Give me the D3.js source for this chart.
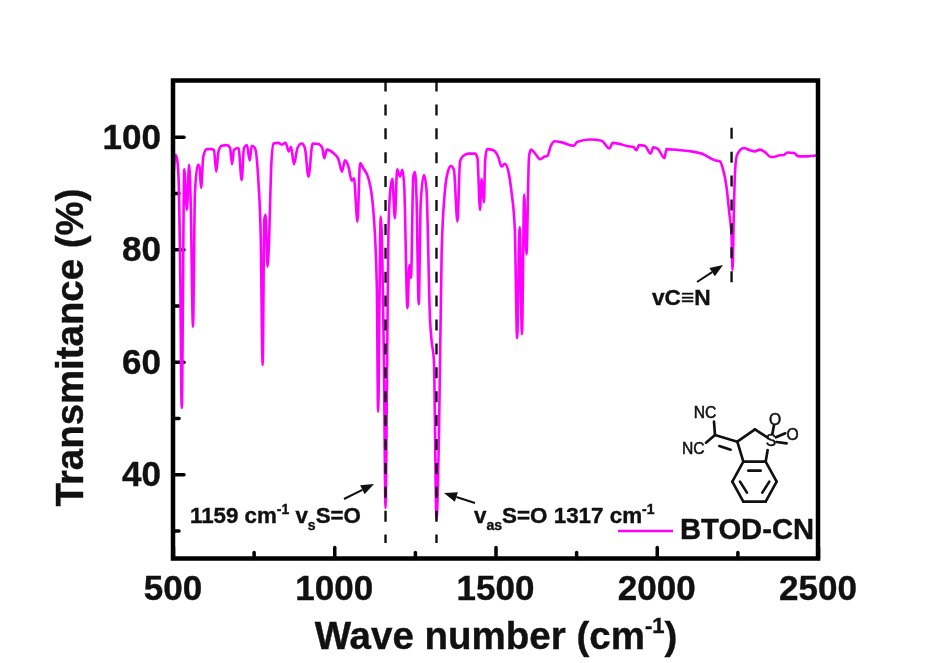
<!DOCTYPE html>
<html><head><meta charset="utf-8">
<script src="https://cdnjs.cloudflare.com/ajax/libs/d3/7.8.5/d3.min.js"></script>
<style>
html,body{margin:0;padding:0;background:#fff}
svg{display:block;filter:blur(0.55px)}
text{font-family:"Liberation Sans",Arial,sans-serif;font-weight:bold;fill:#111;stroke:#111;stroke-width:0.4px}
</style></head><body><svg id="c" width="937" height="663"></svg>
<script>
const waveNumbers=[503,507,512,517,522,527,535,543,550,555,562,568,577,582,587,594,605,620,627,634,641,651,667,677,683,689,703,713,720,729,738,744,754,765,772,778,783,787,793,798,804,811,827,837,849,859,866,875,886,899,909,920,933,951,963,969,977,997,1013,1024,1033,1044,1054,1061,1072,1080,1090,1106,1121,1132,1136,1144,1154,1159,1164,1168,1173,1180,1188,1195,1204,1211,1217,1227,1233,1238,1245,1250,1255,1262,1268,1278,1286,1297,1302,1309,1317,1325,1333,1343,1354,1362,1371,1382,1390,1400,1416,1436,1444,1452,1457,1464,1468,1474,1493,1508,1519,1529,1540,1550,1560,1567,1575,1582,1589,1596,1604,1610,1622,1638,1653,1661,1671,1684,1705,1743,1753,1793,1829,1853,1863,1886,1911,1927,1937,1945,1963,1981,1989,2004,2024,2030,2072,2108,2144,2180,2196,2206,2216,2225,2232,2235,2239,2243,2249,2270,2289,2304,2320,2335,2353,2369,2382,2392,2405,2425,2440,2464,2500];
const transmittance=[94,96.8,96.2,93,78,51.8,94.2,87,95,88,66.2,90,95,94.7,90.9,96.5,97.8,97.8,97.6,93.8,97.4,98.4,98.5,98,95.1,97.7,98,92.3,98,98.5,95.8,98.4,98,91.8,82.3,59.4,85.2,86.1,76.9,81.7,94,98.8,98.9,98.6,98.9,97.4,98.2,95.1,98,98.8,98,92.9,98.8,98.7,98,96.2,97.7,97.1,96,93.8,95.8,94.7,92.2,92.6,84.9,95.3,94.4,92.6,87,73.4,51.1,85.8,60,34,60,82.9,90,92.5,85.5,94.2,92.9,94.1,91.2,69.5,77.2,74.9,92.9,93.7,89.4,70.2,88.2,93.2,90.6,67.4,63.6,60.3,31.9,48,79.3,90.3,94.1,94.8,94.1,84.9,95.6,96.6,97,97,96.2,87,92.5,88.3,95.9,97.8,97.6,96.5,94.7,95.2,93.8,90,83.4,64.2,83.9,64.9,89.7,79.1,96.5,97.7,97.1,96,96.5,96.6,98.3,99.2,99,98.4,99.05,99.5,99.3,97.9,98.9,98.7,98.3,98.2,97.6,98.5,98.4,97,98.1,97.8,96.2,97.8,97.6,97.4,96.9,95.8,95.6,94.1,91.2,86.4,82.3,76.3,86.4,94.1,96.8,98,97.6,97.4,97.7,97.3,96.4,96.5,96.7,96.7,97.2,97.1,96.5,96.5,96.7];
const xMajor=[500,1000,1500,2000,2500], xMinor=[750,1250,1750,2250];
const yMajor=[40,60,80,100], yMinor=[30,50,70,90];
const markers=[{w:1159,top:110,bottom:27.75},{w:1317,top:110,bottom:27.75},{w:2232,top:101.6,bottom:74}];

const svg=d3.select("#c");
const x=d3.scaleLinear().domain([500,2500]).range([173,818]);
const y=d3.scaleLinear().domain([25,110]).range([558.5,80.5]);
const sw=4.5;

function axis(gen,tx,ty){
  const g=svg.append("g").attr("transform",`translate(${tx},${ty})`).call(gen);
  g.select(".domain").remove();
  g.selectAll("line").attr("stroke","#000").attr("stroke-width",3.5).attr("stroke-linecap","round");
  g.selectAll("text").attr("fill","#111");
  return g;
}
const base=y.range()[0], left=x.range()[0];
// tick marks
axis(d3.axisBottom(x).tickValues(xMajor).tickSize(-11).tickFormat(""),0,base);
axis(d3.axisBottom(x).tickValues(xMinor).tickSize(-6).tickFormat(""),0,base);
axis(d3.axisLeft(y).tickValues(yMajor).tickSize(-11).tickFormat(""),left,0);
axis(d3.axisLeft(y).tickValues(yMinor).tickSize(-6).tickFormat(""),left,0);
// tick labels
svg.selectAll(".xl").data(xMajor).join("text").attr("class","xl")
  .attr("x",d=>x(d)).attr("y",600).attr("text-anchor","middle").attr("font-size",35).text(d=>d);
svg.selectAll(".yl").data(yMajor).join("text").attr("class","yl")
  .attr("x",161).attr("y",d=>y(d)).attr("dy","0.35em").attr("text-anchor","end").attr("font-size",35).text(d=>d);

const line=d3.line().x((d,i)=>x(waveNumbers[i])).y(d=>y(d)).curve(d3.curveMonotoneX);
svg.append("path").datum(transmittance).attr("d",line).attr("fill","none")
  .attr("stroke","#ff00ff").attr("stroke-width",2.6).attr("stroke-linejoin","round");

svg.selectAll(".mk").data(markers).join("line").attr("class","mk")
  .attr("x1",d=>x(d.w)).attr("x2",d=>x(d.w)).attr("y1",d=>y(d.top)).attr("y2",d=>y(d.bottom))
  .attr("stroke","#111").attr("stroke-width",2.4).attr("stroke-dasharray","11 12.9");

svg.append("rect").attr("x",left).attr("y",y.range()[1])
  .attr("width",x.range()[1]-left).attr("height",base-y.range()[1])
  .attr("fill","none").attr("stroke","#000").attr("stroke-width",sw);

// axis titles
svg.append("text").attr("transform","translate(83,347.5) rotate(-90)").attr("text-anchor","middle")
  .attr("font-size",38.4).text("Transmitance (%)");
const xt=svg.append("text").attr("x",496).attr("y",649).attr("text-anchor","middle").attr("font-size",38.5);
xt.append("tspan").text("Wave number (cm");
xt.append("tspan").attr("dy",-16).attr("font-size",22).text("-1");
xt.append("tspan").attr("dy",16).text(")");

// annotations
function note(px,py,parts,size){
  const t=svg.append("text").attr("x",px).attr("y",py).attr("font-size",size);
  let prev=0;
  parts.forEach(p=>{
    const off=p.off||0;
    t.append("tspan").attr("dy",off-prev).attr("font-size",p.size||size).text(p.t);
    prev=off;
  });
}
note(190,523,[{t:"1159 cm"},{t:"-1",off:-9,size:14},{t:" v"},{t:"s",off:7,size:14},{t:"S=O"}],22.3);
note(474,523,[{t:"v"},{t:"as",off:7,size:14},{t:"S=O 1317 cm"},{t:"-1",off:-9,size:14}],22.4);
note(652,305,[{t:"vC≡N"}],22.7);
svg.append("text").attr("x",680).attr("y",539).attr("font-size",29.2).text("BTOD-CN");
svg.append("line").attr("x1",618).attr("x2",673).attr("y1",531).attr("y2",531)
  .attr("stroke","#ff00ff").attr("stroke-width",2.4);

// arrows
const arrows=[[344,499,374,484],[475,503,444,493],[697,282,723,265]];
arrows.forEach(([a,b,c,d])=>{
  const ang=Math.atan2(d-b,c-a),L=13,W=5;
  const bx=c-L*Math.cos(ang),by=d-L*Math.sin(ang);
  svg.append("line").attr("x1",a).attr("y1",b).attr("x2",bx).attr("y2",by).attr("stroke","#111").attr("stroke-width",2);
  svg.append("path").attr("fill","#111").attr("d",
   `M${c},${d}L${bx-W*Math.sin(ang)},${by+W*Math.cos(ang)}L${bx+W*Math.sin(ang)},${by-W*Math.cos(ang)}Z`);
});

// molecule (drawn in zoom-crop units)
const mol=svg.append("g").attr("transform","translate(600,390) scale(0.3333)");
const bonds=[[342,95,345,135],[345,135,318,158],[345,135,412,155],[358,168,392,179],[412,155,465,118],[465,118,503,143],[503,180,497,215],[412,155,430,215],
[430,215,497,215],[497,215,530,275],[530,275,497,335],[497,335,430,335],[430,335,397,275],[397,275,430,215],
[445,242,482,242],[508,275,487,308],[420,275,441,308],
[517,132,522,106],[528,142,556,130],[530,156,560,160]];
mol.selectAll("line").data(bonds).join("line")
 .attr("x1",d=>d[0]).attr("y1",d=>d[1]).attr("x2",d=>d[2]).attr("y2",d=>d[3])
 .attr("stroke","#111").attr("stroke-width",8).attr("stroke-linecap","round");
[["NC",315,85],["NC",280,193],["O",525,104],["O",578,149],["S",513,168]].forEach(([s,a,b])=>{
 mol.append("text").attr("x",a).attr("y",b).attr("text-anchor","middle").attr("font-size",47).text(s).style("font-weight","normal").style("stroke-width","1.5px");
});
</script></body></html>
